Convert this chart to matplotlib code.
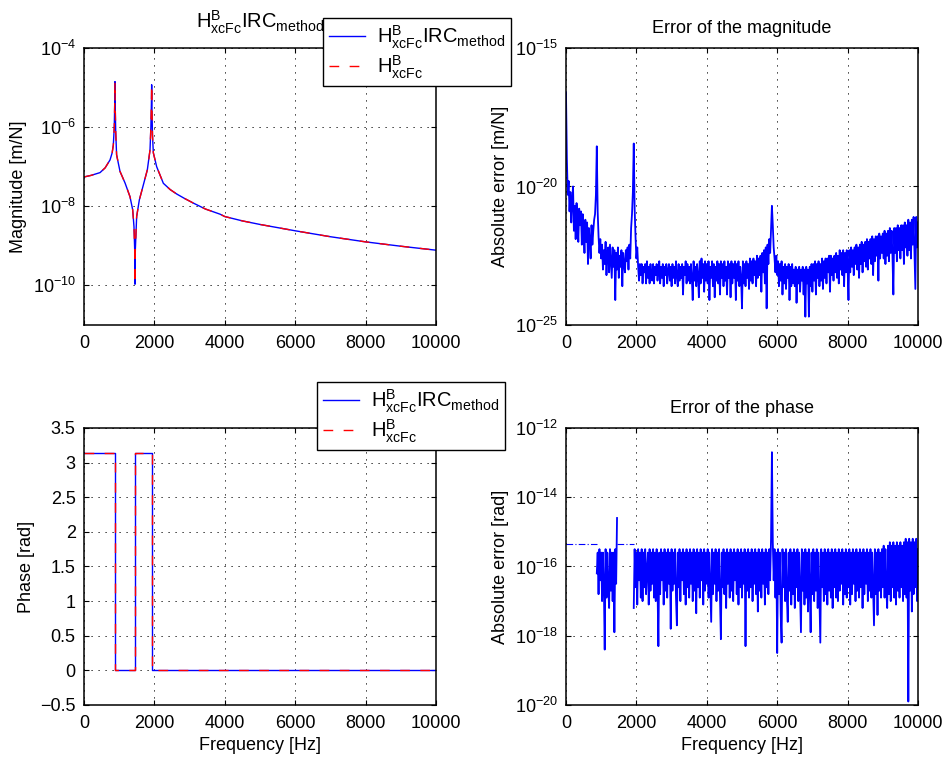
import numpy as np
import matplotlib
matplotlib.use("Agg")
import matplotlib.pyplot as plt
from matplotlib.ticker import NullLocator

# ---- data (log10 values for the log-scale panels) ----
mag_freq = [0, 200, 455, 600, 739, 800, 833, 860, 875, 880, 885, 900, 926,
            1023, 1165, 1307, 1383, 1420, 1440, 1449, 1458, 1496, 1572, 1686,
            1799, 1875, 1900, 1915, 1922, 1930, 1945, 1970, 2064, 2254, 2450,
            2633, 2850, 3106, 3450, 3864, 4000, 4500, 5000, 6000, 7000, 8000,
            9000, 10000]
mag_exp = [-7.26, -7.22, -7.15, -7.03, -6.83, -6.65, -6.45, -6.0, -5.3, -4.85,
           -5.4, -6.1, -6.70, -7.12, -7.41, -7.76, -8.09, -8.52, -9.1, -9.97,
           -9.1, -8.26, -7.84, -7.46, -7.08, -6.58, -6.0, -5.4, -4.93, -5.5,
           -6.2, -6.65, -7.0, -7.42, -7.58, -7.69, -7.80, -7.92, -8.07, -8.2,
           -8.26, -8.37, -8.46, -8.62, -8.77, -8.90, -9.01, -9.11]

phase_freq = [0, 880, 880, 1450, 1450, 1922, 1922, 10000]
phase_val = [3.1416, 3.1416, 0, 0, 3.1416, 3.1416, 0, 0]

# error curves, one value every 25 Hz from 0 to 10000 Hz (20 values per row)
mag_err_exp = [
    -16.6, -19.0, -20.3, -19.8, -20.9, -20.2, -21.3, -20.5, -20.0, -21.6, -20.7, -21.9, -20.6, -21.2, -22.0, -20.8, -21.4, -20.9, -22.1, -21.0,
    -21.6, -22.4, -21.2, -22.0, -21.3, -22.8, -21.5, -21.9, -22.6, -21.4, -22.1, -21.6, -21.2, -21.0, -20.3, -18.55, -20.9, -21.8, -22.4, -21.9,
    -22.6, -22.1, -23.0, -22.3, -22.8, -22.0, -23.2, -22.4, -22.2, -23.1, -22.1, -22.7, -23.3, -22.2, -22.9, -22.3, -24.1, -22.4, -23.0, -22.2,
    -23.3, -22.5, -22.9, -22.3, -23.6, -22.4, -22.8, -23.1, -22.3, -22.7, -22.2, -23.0, -22.1, -22.6, -21.5, -21.0, -20.2, -18.45, -20.8, -21.8,
    -22.6, -22.2, -22.9, -23.4, -22.8, -23.2, -22.8, -23.5, -22.9, -23.1, -22.8, -23.5, -22.7, -23.3, -22.9, -23.5, -22.8, -23.2, -23.4, -22.8,
    -23.5, -22.9, -23.2, -22.8, -23.4, -23.0, -22.7, -23.5, -22.9, -23.3, -22.8, -23.6, -22.9, -23.2, -22.8, -23.5, -23.0, -22.8, -23.4, -22.9,
    -23.6, -22.8, -23.3, -22.9, -23.5, -22.7, -23.2, -23.6, -22.8, -23.4, -22.9, -23.3, -22.8, -23.9, -22.9, -23.2, -22.7, -23.5, -22.8, -23.4,
    -22.9, -23.5, -22.8, -23.3, -24.1, -22.7, -23.4, -22.9, -23.6, -22.8, -23.2, -24.0, -22.7, -23.5, -22.6, -23.3, -22.8, -23.8, -22.7, -23.4,
    -22.8, -23.5, -22.7, -24.1, -22.9, -23.3, -22.7, -23.6, -22.8, -24.0, -22.9, -23.4, -22.7, -23.5, -22.8, -23.9, -22.7, -23.3, -22.8, -23.6,
    -22.7, -23.4, -22.9, -23.9, -22.7, -23.3, -22.8, -24.0, -22.7, -23.5, -22.8, -23.3, -22.7, -24.1, -22.8, -23.4, -22.7, -23.6, -22.9, -23.3,
    -24.4, -22.7, -23.5, -22.8, -23.6, -22.7, -23.3, -22.8, -23.7, -22.6, -23.4, -22.7, -23.5, -22.6, -23.2, -22.7, -23.6, -22.5, -23.3, -22.6,
    -23.2, -22.5, -23.8, -22.4, -23.1, -22.3, -23.5, -22.2, -24.4, -22.1, -22.8, -21.9, -22.4, -21.6, -20.7, -21.4, -22.2, -22.6, -23.1, -22.5,
    -23.2, -22.7, -23.6, -22.8, -23.4, -22.7, -23.9, -22.9, -23.5, -22.8, -23.7, -22.9, -23.3, -22.8, -24.1, -22.9, -23.6, -22.8, -23.5, -23.0,
    -23.6, -22.9, -24.2, -23.0, -23.5, -22.9, -23.8, -23.0, -23.4, -22.9, -23.9, -23.0, -24.7, -22.9, -23.5, -23.0, -24.7, -22.9, -23.6, -22.8,
    -23.8, -22.8, -23.4, -22.7, -23.9, -22.8, -23.3, -22.7, -23.6, -22.8, -23.4, -22.6, -23.7, -22.7, -23.3, -22.6, -23.5, -22.6, -23.1, -22.5,
    -23.8, -22.5, -23.2, -22.6, -23.4, -22.5, -23.1, -22.4, -23.3, -22.5, -23.5, -22.3, -23.0, -22.4, -23.2, -22.3, -23.6, -22.4, -23.1, -22.3,
    -22.9, -24.1, -22.3, -23.1, -22.2, -22.9, -22.3, -23.2, -22.2, -22.8, -22.1, -23.0, -22.2, -23.3, -22.1, -22.8, -22.0, -23.1, -22.1, -22.7,
    -22.0, -22.9, -21.9, -23.0, -22.0, -22.6, -21.9, -22.8, -21.8, -23.2, -21.9, -22.7, -21.8, -22.5, -21.8, -23.4, -21.7, -22.6, -21.8, -22.4,
    -21.7, -22.6, -21.6, -22.8, -21.7, -22.5, -21.6, -22.7, -21.5, -22.4, -21.6, -22.5, -23.9, -21.5, -22.4, -21.5, -22.7, -21.4, -22.3, -21.5,
    -22.6, -21.4, -22.3, -21.4, -22.8, -21.3, -22.2, -21.4, -22.5, -21.2, -22.3, -21.3, -22.6, -21.2, -22.1, -21.1, -22.4, -23.7, -21.1, -22.2,
    -21.3]

nan = np.nan
phase_err_exp = [
    nan, nan, nan, nan, nan, nan, nan, nan, nan, nan, nan, nan, nan, nan, nan, nan, nan, nan, nan, nan,
    nan, nan, nan, nan, nan, nan, nan, nan, nan, nan, nan, nan, nan, nan, nan, -16.2, -15.6, -16.8, -15.5, -16.4,
    -15.6, -17.0, -15.6, -16.5, -18.4, -15.5, -16.9, -15.6, -16.6, -17.2, -15.5, -16.7, -15.6, -17.0, -15.6, -17.9, -15.5, -16.5, -14.6, nan,
    nan, nan, nan, nan, nan, nan, nan, nan, nan, nan, nan, nan, nan, nan, nan, nan, nan, -17.2, -15.5, -16.6,
    -15.6, -17.1, -15.5, -16.4, -15.6, -16.9, -15.5, -17.0, -15.6, -16.6, -15.5, -16.8, -16.1, -15.6, -17.1, -15.5, -16.7, -15.6, -16.5, -15.5,
    -16.9, -15.6, -17.0, -15.5, -16.6, -18.3, -15.6, -16.8, -15.5, -16.4, -15.6, -17.1, -15.5, -16.7, -15.6, -16.9, -15.5, -16.5, -15.6, -17.8,
    -15.5, -16.7, -15.6, -16.5, -15.5, -16.9, -17.7, -15.6, -16.6, -15.5, -17.0, -15.6, -16.4, -15.5, -16.8, -15.6, -17.1, -15.5, -16.6, -15.6,
    -16.9, -15.5, -16.5, -15.6, -17.0, -15.5, -16.7, -15.6, -17.35, -15.5, -16.6, -15.6, -16.9, -15.5, -16.4, -15.6, -17.1, -15.5, -16.7, -15.6,
    -16.5, -15.5, -16.9, -15.6, -16.6, -17.6, -15.5, -16.8, -15.6, -16.5, -15.5, -17.0, -15.6, -16.7, -15.5, -16.9, -18.1, -15.6, -16.6, -15.5,
    -16.8, -15.6, -17.2, -15.5, -16.5, -15.6, -16.9, -15.5, -16.7, -15.6, -17.0, -15.5, -16.4, -15.6, -16.8, -15.5, -17.1, -15.6, -16.6, -15.5,
    -16.9, -15.6, -16.5, -15.5, -18.3, -15.6, -16.7, -15.5, -16.9, -15.6, -16.6, -15.5, -17.0, -15.6, -16.5, -15.5, -16.8, -15.6, -17.3, -15.5,
    -16.7, -15.6, -16.9, -15.5, -16.5, -15.6, -17.1, -15.5, -16.6, -15.6, -16.8, -15.5, -16.4, -15.2, -12.7, -15.3, -16.4, -15.5, -16.9, -15.6,
    -18.5, -15.5, -16.8, -15.6, -17.4, -18.2, -15.5, -16.6, -15.6, -17.0, -15.5, -16.9, -17.6, -15.6, -16.7, -15.5, -17.1, -15.6, -16.8, -15.5,
    -17.2, -15.6, -16.6, -15.5, -17.0, -15.6, -16.8, -17.9, -15.5, -16.7, -15.6, -17.1, -15.5, -16.9, -15.6, -17.3, -15.5, -16.6, -17.9, -15.6,
    -16.8, -15.5, -17.0, -15.6, -16.7, -15.5, -17.2, -15.6, -16.9, -18.2, -15.5, -16.6, -15.6, -17.0, -15.5, -16.8, -15.6, -17.1, -15.5, -16.7,
    -15.6, -16.9, -15.5, -17.2, -15.6, -16.6, -15.5, -16.9, -15.6, -17.0, -15.5, -16.7, -15.6, -16.5, -15.5, -17.1, -15.6, -16.8, -15.5, -16.9,
    -15.6, -16.6, -15.5, -17.1, -15.6, -16.8, -15.5, -16.5, -15.6, -17.0, -15.5, -16.7, -15.6, -16.9, -15.5, -16.6, -15.6, -17.2, -15.5, -16.8,
    -15.6, -16.5, -15.5, -17.0, -15.6, -16.7, -15.5, -16.9, -15.6, -16.6, -17.7, -15.5, -16.8, -15.6, -17.4, -15.5, -16.7, -15.6, -16.9, -15.5,
    -16.6, -15.4, -16.9, -15.5, -16.7, -17.2, -15.4, -16.8, -15.3, -17.0, -15.4, -16.6, -15.3, -16.9, -15.4, -17.1, -15.3, -16.7, -15.4, -16.9,
    -15.3, -16.6, -15.4, -17.0, -15.3, -16.8, -15.2, -16.9, -15.3, -19.9, -15.2, -16.7, -15.3, -17.3, -15.2, -16.8, -15.3, -16.6, -15.2, -17.0,
    -15.5]

# flat parts of the phase error (drawn dash-dotted)
flat_freq_a = [0, 880]
flat_freq_b = [1450, 1922]
flat_exp = -15.35

lbl_irc = r'$\mathrm{H^{B}_{xcFc}IRC_{method}}$'
lbl_ref = r'$\mathrm{H^{B}_{xcFc}}$'

plt.rcParams['font.family'] = ['Liberation Sans', 'DejaVu Sans']
plt.rcParams['font.size'] = 13
plt.rcParams['axes.titlesize'] = 13
plt.rcParams['mathtext.fontset'] = 'custom'
plt.rcParams['mathtext.rm'] = 'Liberation Sans'
plt.rcParams['mathtext.it'] = 'Liberation Sans:italic'
plt.rcParams['mathtext.bf'] = 'Liberation Sans:bold'
plt.rcParams['axes.linewidth'] = 1.1
plt.rcParams['xtick.direction'] = 'in'
plt.rcParams['ytick.direction'] = 'in'
plt.rcParams['xtick.top'] = True
plt.rcParams['ytick.right'] = True
plt.rcParams['xtick.major.size'] = 3.5
plt.rcParams['ytick.major.size'] = 3.5
plt.rcParams['xtick.major.pad'] = 7
plt.rcParams['ytick.major.pad'] = 6

fig = plt.figure(figsize=(9.46, 7.6), dpi=100)
ax1 = fig.add_axes([0.0888, 0.5724, 0.3721, 0.3645])
ax2 = fig.add_axes([0.5983, 0.5724, 0.3721, 0.3645])
ax3 = fig.add_axes([0.0888, 0.0724, 0.3721, 0.3645])
ax4 = fig.add_axes([0.5983, 0.0724, 0.3721, 0.3645])

mag = 10.0 ** np.array(mag_exp)
ax1.semilogy(mag_freq, mag, color='b', lw=1.0, label=lbl_irc)
ax1.semilogy(mag_freq, mag, color='r', lw=1.0, dashes=(7, 7.5), label=lbl_ref)
ax1.set_ylim(1e-11, 1e-4)
ax1.set_yticks([1e-10, 1e-8, 1e-6, 1e-4])
ax1.set_ylabel('Magnitude [m/N]')
ax1.set_title(lbl_irc, pad=14, fontsize=14.5)

err_freq = np.linspace(0, 10000, len(mag_err_exp))
ax2.semilogy(err_freq, 10.0 ** np.array(mag_err_exp), color='b', lw=1.3)
ax2.set_ylim(1e-25, 1e-15)
ax2.set_yticks([1e-25, 1e-20, 1e-15])
ax2.set_ylabel('Absolute error [m/N]')
ax2.set_title('Error of the magnitude', pad=11)

ax3.plot(phase_freq, phase_val, color='b', lw=1.0, label=lbl_irc)
ax3.plot(phase_freq, phase_val, color='r', lw=1.0, dashes=(7, 7.5), label=lbl_ref)
ax3.set_ylim(-0.5, 3.5)
ax3.set_yticks(np.arange(-0.5, 3.51, 0.5))
ax3.set_yticklabels(['\u22120.5', '0', '0.5', '1', '1.5', '2', '2.5', '3', '3.5'])
ax3.set_ylabel('Phase [rad]')
ax3.set_xlabel('Frequency [Hz]')

ph_freq = np.linspace(0, 10000, len(phase_err_exp))
ax4.semilogy(ph_freq, 10.0 ** np.array(phase_err_exp), color='b', lw=1.3)
ax4.semilogy(flat_freq_a, [10.0 ** flat_exp] * 2, color='b', lw=0.8, ls=(0, (6, 2, 1, 2)))
ax4.semilogy(flat_freq_b, [10.0 ** flat_exp] * 2, color='b', lw=0.8, ls=(0, (6, 2, 1, 2)))
ax4.set_ylim(1e-20, 1e-12)
ax4.set_yticks([1e-20, 1e-18, 1e-16, 1e-14, 1e-12])
ax4.set_ylabel('Absolute error [rad]')
ax4.set_xlabel('Frequency [Hz]')
ax4.set_title('Error of the phase', pad=11)

for ax in (ax1, ax2, ax3, ax4):
    ax.set_xlim(0, 10000)
    ax.set_xticks([0, 2000, 4000, 6000, 8000, 10000])
    ax.grid(True, color='k', lw=0.7, ls=(0, (1.2, 6)))
    ax.yaxis.set_minor_locator(NullLocator())
    ax.xaxis.set_minor_locator(NullLocator())

leg_kw = dict(loc='upper left', bbox_transform=fig.transFigure, borderaxespad=0,
              fancybox=False, edgecolor='k', framealpha=1, fontsize=14.5,
              handlelength=1.8, handletextpad=0.6, borderpad=0.28,
              labelspacing=0.12)
leg1 = ax1.legend(bbox_to_anchor=(323 / 946, 1 - 18 / 760), **leg_kw)
leg3 = ax3.legend(bbox_to_anchor=(317 / 946, 1 - 382 / 760), **leg_kw)
for leg in (leg1, leg3):
    leg.get_frame().set_linewidth(1.0)

fig.savefig('out.png', dpi=100)
